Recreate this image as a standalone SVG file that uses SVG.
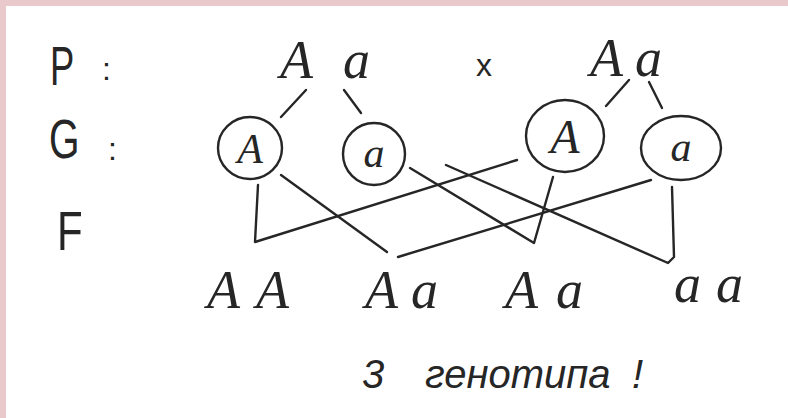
<svg xmlns="http://www.w3.org/2000/svg" width="788" height="418" viewBox="0 0 788 418">
<style>
.ink{fill:none;stroke:#262626;stroke-width:2.4;stroke-linecap:round;stroke-linejoin:round}
.lbl{font-family:"Liberation Sans","DejaVu Sans",sans-serif;fill:#262626}
.al{font-family:"Liberation Serif","DejaVu Serif",serif;font-style:italic;font-size:54px;fill:#262626}
.gm{font-family:"Liberation Serif","DejaVu Serif",serif;font-style:italic;font-size:42px;fill:#262626;text-anchor:middle}
.note{font-family:"Liberation Sans","DejaVu Sans",sans-serif;font-style:italic;font-size:40px;fill:#262626}
</style>
<rect x="0" y="0" width="788" height="418" fill="#eac9cd"/>
<rect x="6" y="6" width="782" height="412" fill="#ffffff"/>
<g id="row-labels">
<text class="lbl" x="0" y="0" font-size="56" transform="translate(50,85) scale(0.65,1)">P</text>
<text class="lbl" x="102" y="80" font-size="32">:</text>
<text class="lbl" x="0" y="0" font-size="56" transform="translate(49,158) scale(0.7,1)">G</text>
<text class="lbl" x="108" y="160" font-size="32">:</text>
<text class="lbl" x="0" y="0" font-size="56" transform="translate(57,250) scale(0.75,1)">F</text>
</g>
<g id="parent1"><text class="al" x="280 343" y="78">Aa</text></g>
<g id="cross"><text class="lbl" x="476" y="76" font-size="32">x</text></g>
<g id="parent2"><text class="al" x="590 635" y="76">Aa</text></g>
<g id="gamete-A1"><ellipse class="ink" cx="250" cy="148" rx="32" ry="31"/><text class="gm" x="250" y="163">A</text></g>
<g id="gamete-a1"><ellipse class="ink" cx="374" cy="154" rx="31" ry="31"/><text class="gm" x="374" y="167">a</text></g>
<g id="gamete-A2"><ellipse class="ink" cx="565" cy="136" rx="39" ry="36"/><text class="gm" x="565" y="153" style="font-size:48px">A</text></g>
<g id="gamete-a2"><ellipse class="ink" cx="681" cy="148" rx="40" ry="32"/><text class="gm" x="681" y="161">a</text></g>
<g id="connectors">
<line class="ink" x1="306" y1="90" x2="281" y2="117"/>
<line class="ink" x1="344" y1="90" x2="361" y2="113"/>
<line class="ink" x1="629" y1="80" x2="606" y2="106"/>
<line class="ink" x1="649" y1="82" x2="662" y2="108"/>
<polyline class="ink" points="258,185 255,242 517,160"/>
<line class="ink" x1="281" y1="175" x2="387" y2="252"/>
<line class="ink" x1="651" y1="180" x2="398" y2="257"/>
<polyline class="ink" points="410,168 534,243 553,177"/>
<polyline class="ink" points="446,165 668,263 674,257 672,187"/>
</g>
<g id="offspring-AA"><text class="al" x="207 256" y="308">AA</text></g>
<g id="offspring-Aa1"><text class="al" x="365 411" y="308">Aa</text></g>
<g id="offspring-Aa2"><text class="al" x="505 556" y="308">Aa</text></g>
<g id="offspring-aa"><text class="al" x="674 716" y="302">aa</text></g>
<g id="note"><text class="note" y="388"><tspan x="362">3</tspan><tspan x="425">генотипа</tspan><tspan x="632">!</tspan></text></g>
</svg>
